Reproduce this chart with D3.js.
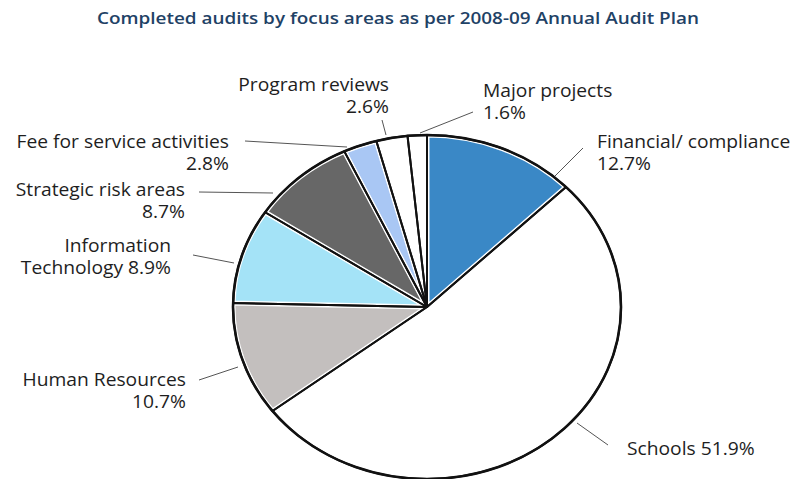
<!DOCTYPE html>
<html><head><meta charset="utf-8">
<script src="https://cdn.jsdelivr.net/npm/d3@7"></script>
<style>body{margin:0;background:#fff}svg{display:block}</style>
</head><body>
<svg id="c" width="794" height="479"></svg>
<script>
const title = "Completed audits by focus areas as per 2008-09 Annual Audit Plan";
const categories = ["Financial/ compliance","Schools","Human Resources","Information Technology","Strategic risk areas","Fee for service activities","Program reviews","Major projects"];
const values = [12.7, 51.9, 10.7, 8.9, 8.7, 2.8, 2.6, 1.6];
const colors = ["#3a88c6","#ffffff","#c3bfbe","#a4e3f7","#676767","#a9c7f4","#ffffff","#ffffff"];
// label text lines (as shown)
const labelLines = [
  ["Financial/ compliance","12.7%"],
  ["Schools 51.9%"],
  ["Human Resources","10.7%"],
  ["Information","Technology 8.9%"],
  ["Strategic risk areas","8.7%"],
  ["Fee for service activities","2.8%"],
  ["Program reviews","2.6%"],
  ["Major projects","1.6%"]
];

const svg = d3.select("#c");
const cx = 427, cy = 307, rx = 194, ry = 172;

svg.append("text").attr("x", 398).attr("y", 24).attr("text-anchor","middle")
  .attr("font-family","Open Sans").attr("font-weight",600).attr("font-size",17)
  .attr("fill","#1f4266").attr("textLength",602).attr("lengthAdjust","spacingAndGlyphs").text(title);

const pie = d3.pie().sort(null).value(d => d)(values);
const arc = d3.arc().innerRadius(0).outerRadius(rx);
const defs = svg.append("defs");
const g = svg.append("g").attr("transform", `translate(${cx},${cy}) scale(1,${ry/rx})`);

pie.forEach((p,i) => {
  defs.append("clipPath").attr("id","cl"+i).append("path").attr("d", arc(p));
});
g.selectAll("path.fill").data(pie).join("path").attr("class","fill")
  .attr("d", arc).attr("fill", (d,i) => colors[i]);
g.selectAll("path.wb").data(pie).join("path").attr("class","wb")
  .attr("d", arc).attr("fill","none").attr("stroke","#fff").attr("stroke-width",5)
  .attr("vector-effect","non-scaling-stroke").attr("clip-path",(d,i)=>`url(#cl${i})`);
g.selectAll("path.bl").data(pie).join("path").attr("class","bl")
  .attr("d", arc).attr("fill","none").attr("stroke","#111").attr("stroke-width",2)
  .attr("stroke-linejoin","round").attr("vector-effect","non-scaling-stroke");
g.append("ellipse").attr("rx",rx).attr("ry",rx).attr("fill","none").attr("stroke","#111")
  .attr("stroke-width",2.6).attr("vector-effect","non-scaling-stroke");

// leader lines
const leaderStart = [[555,176],[577,423],[238,367],[234,263],[273,193],[347,147],[386,135],[420,133]];
const leaderEnds = [[583,148],[608,445],[199,380],[193,255],[199,192],[245,141],[382,120],[473,112]];
svg.append("g").selectAll("line").data(pie).join("line")
  .attr("x1",(d,i)=>leaderStart[i][0]).attr("y1",(d,i)=>leaderStart[i][1])
  .attr("x2",(d,i)=>leaderEnds[i][0]).attr("y2",(d,i)=>leaderEnds[i][1])
  .attr("stroke","#555").attr("stroke-width",1);

// label positions (x, baseline y, anchor)
const labelPos = [[597,148,"start"],[627,455,"start"],[186,386,"end"],[171,252,"end"],[185,196,"end"],[229,148,"end"],[389,91,"end"],[483,97,"start"]];
const lg = svg.append("g").attr("font-family","Open Sans").attr("font-size",17.5).attr("fill","#1e1e1e");
labelLines.forEach((lines,i) => {
  const [x,y,anc] = labelPos[i];
  const t = lg.append("g").attr("transform",`translate(${x},${y}) scale(1.1,1)`)
    .append("text").attr("text-anchor",anc);
  lines.forEach((ln,j) => t.append("tspan").attr("x",0).attr("y", j*22).text(ln));
});
</script>
</body></html>
